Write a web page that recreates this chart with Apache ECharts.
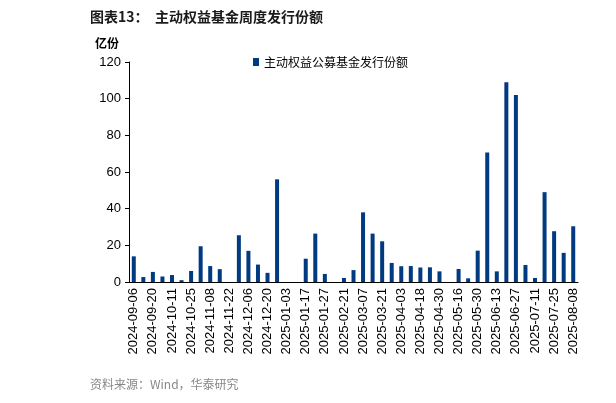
<!DOCTYPE html><html><head><meta charset="utf-8"><script src="https://cdn.jsdelivr.net/npm/echarts@6/dist/echarts.min.js"></script>
<style>body{margin:0}#c{width:616px;height:403px}</style></head><body><div id="c"></div><script>
const categories=['2024-09-06','2024-09-13','2024-09-20','2024-09-27','2024-10-11','2024-10-18','2024-10-25','2024-11-01','2024-11-08','2024-11-15','2024-11-22','2024-11-29','2024-12-06','2024-12-13','2024-12-20','2024-12-27','2025-01-03','2025-01-10','2025-01-17','2025-01-24','2025-01-27','2025-02-14','2025-02-21','2025-02-28','2025-03-07','2025-03-14','2025-03-21','2025-03-28','2025-04-03','2025-04-11','2025-04-18','2025-04-25','2025-04-30','2025-05-09','2025-05-16','2025-05-23','2025-05-30','2025-06-06','2025-06-13','2025-06-20','2025-06-27','2025-07-04','2025-07-11','2025-07-18','2025-07-25','2025-08-01','2025-08-08'];
const values=[14,2.7,5.5,3,3.8,1,6,19.5,8.7,7,0,25.5,17,9.5,5,56,0,0,12.7,26.4,4.4,0,2.2,6.5,38,26.4,22.2,10.4,8.6,8.7,7.9,8,5.8,0,7.1,2,17.1,70.6,5.8,109,102,9.3,2.2,49,27.7,15.9,30.4];
const yTicks=[0,20,40,60,80,100,120];
const seriesName='主动权益公募基金发行份额';
const c=echarts.init(document.getElementById('c'));
c.setOption({animation:false,
graphic:[
{type:'text',left:90,top:10,style:{text:'图表13：  主动权益基金周度发行份额',font:'bold 14px "Noto Sans CJK SC"',fill:'#1a1a1a'}},
{type:'text',left:95,top:37,style:{text:'亿份',font:'bold 12px "Noto Sans CJK SC"',fill:'#000'}},
{type:'text',left:90,top:378,style:{text:'资料来源：Wind，华泰研究',font:'12px "Noto Sans CJK SC"',fill:'#888'}}
],
legend:{top:51,left:248,itemWidth:6,itemHeight:8,icon:'rect',textStyle:{fontFamily:'Noto Sans CJK SC',fontSize:12,color:'#000'}},
grid:{left:129,right:38,top:62,bottom:121},
xAxis:{type:'category',data:categories,axisTick:{alignWithLabel:true,interval:1,lineStyle:{color:'#000'}},axisLine:{lineStyle:{color:'#000'}},
axisLabel:{interval:1,rotate:90,color:'#000',fontFamily:'Liberation Sans',fontSize:13,margin:6}},
yAxis:{type:'value',min:0,max:120,interval:20,splitLine:{show:false},axisLine:{show:true,lineStyle:{color:'#000'}},axisTick:{show:true,length:4,lineStyle:{color:'#000'}},
axisLabel:{color:'#000',fontFamily:'Liberation Sans',fontSize:13,formatter:v=>yTicks.includes(v)?v:''}},
series:[{name:seriesName,type:'bar',data:values,barWidth:4,itemStyle:{color:'#003a80'}}]
});
</script></body></html>
